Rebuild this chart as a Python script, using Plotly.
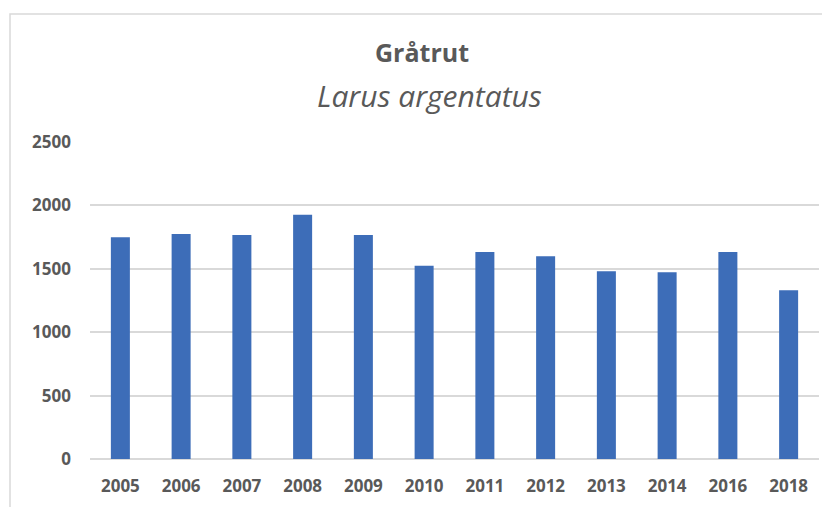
import plotly.graph_objects as go

years = ["2005", "2006", "2007", "2008", "2009", "2010", "2011", "2012", "2013", "2014", "2016", "2018"]
counts = [1748, 1774, 1766, 1927, 1766, 1524, 1632, 1598, 1480, 1472, 1632, 1330]
y_ticks = [0, 500, 1000, 1500, 2000, 2500]

title_text = "Gråtrut"
subtitle_text = "Larus argentatus"

font_family = "Open Sans, Noto Sans, sans-serif"
text_color = "#595959"

fig = go.Figure(go.Bar(x=years, y=counts, marker=dict(color="#3D6DB8", line=dict(width=0))))

fig.update_layout(
    width=830, height=507,
    margin=dict(l=82, r=19, t=134, b=56),
    paper_bgcolor="white", plot_bgcolor="white",
    bargap=0.687,
    showlegend=False,
    font=dict(family=font_family, color=text_color),
)
fig.update_xaxes(
    type="category", showgrid=False, showline=False, ticks="",
    tickfont=dict(size=17, family=font_family, color=text_color, weight="bold"),
    ticklabelstandoff=15,
)
fig.update_yaxes(
    range=[0, 2500], tickvals=y_ticks, showgrid=True, gridcolor="#D9D9D9", gridwidth=1.5,
    zeroline=True, zerolinecolor="#D9D9D9", zerolinewidth=1.5,
    tickfont=dict(size=17, family=font_family, color=text_color, weight="bold"),
    ticklabelstandoff=18, showline=False, ticks="",
)
fig.add_annotation(text="<b>" + title_text + "</b>", xref="paper", yref="paper",
                   x=(422 - 90) / 729, xanchor="center", y=1, yshift=(142 - 52), yanchor="middle",
                   showarrow=False, font=dict(size=25, color=text_color, family=font_family))
fig.add_annotation(text="<i>" + subtitle_text + "</i>", xref="paper", yref="paper",
                   x=(429 - 90) / 729, xanchor="center", y=1, yshift=(142 - 95), yanchor="middle",
                   showarrow=False, font=dict(size=30, color=text_color, family=font_family))
# chart frame (partially visible)
fig.add_shape(type="rect", xref="paper", yref="paper",
              x0=-80 / 729, x1=1.2, y0=-0.3, y1=1 + (142 - 14) / 317,
              line=dict(color="#D9D9D9", width=1.5), layer="below")

fig.write_html("out.html")
